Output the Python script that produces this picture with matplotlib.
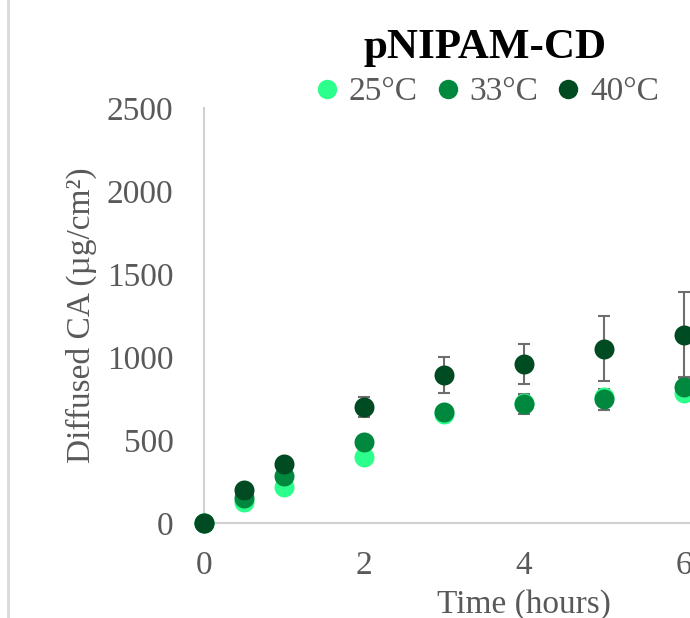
import matplotlib
matplotlib.use("Agg")
import matplotlib.pyplot as plt
from matplotlib.lines import Line2D

plt.rcParams['font.family'] = ['Liberation Serif', 'DejaVu Serif']

time_h = [0, 0.5, 1, 2, 3, 4, 5, 6]
series_labels = ["25°C", "33°C", "40°C"]
vals_25 = [0, 128, 215, 396, 657, 725, 757, 781]
vals_33 = [0, 149, 283, 488, 667, 717, 745, 821]
vals_40 = [0, 199, 353, 697, 891, 956, 1050, 1132]
err_25 = [0, 10, 15, 20, 20, 40, 40, 40]
err_33 = [0, 10, 15, 20, 20, 60, 65, 60]
err_40 = [0, 10, 15, 60, 110, 120, 197, 260]
x_ticks = [0, 2, 4, 6, 8]
y_ticks = [0, 500, 1000, 1500, 2000, 2500]

colors = ["#2dff8c", "#00893e", "#004b22"]
text_color = "#595959"
axis_color = "#d0d0d0"

fig = plt.figure(figsize=(6.9, 6.18), dpi=100)
ax = fig.add_axes([204/690, 1 - 523/618, 640/690, 415/618])

for vals, errs, c in zip([vals_25, vals_33, vals_40], [err_25, err_33, err_40], colors):
    ax.errorbar(time_h, vals, yerr=errs, fmt='none', ecolor="#6e6e6e",
                elinewidth=1.5, capsize=4.3, capthick=1.5, clip_on=False, zorder=2)
for vals, c, lab in zip([vals_25, vals_33, vals_40], colors, series_labels):
    ax.plot(time_h, vals, 'o', color=c, markersize=14.4, markeredgewidth=0,
            clip_on=False, zorder=3, label=lab)

ax.set_xlim(0, 8)
ax.set_ylim(0, 2500)
ax.set_xticks(x_ticks)
ax.set_yticks(y_ticks)
ax.tick_params(length=0, labelsize=24, labelcolor=text_color)
ax.tick_params(axis='x', pad=20)
ax.tick_params(axis='y', pad=22)
for s in ["top", "right"]:
    ax.spines[s].set_visible(False)
for s in ["left", "bottom"]:
    ax.spines[s].set_color(axis_color)
    ax.spines[s].set_linewidth(1.5)

ax.set_xlabel("Time (hours)", fontsize=24, color=text_color, labelpad=6)
ax.set_ylabel("Diffused CA (µg/cm²)", fontsize=24, color=text_color, labelpad=7)

fig.text(485/690, 1 - 48/618, "pNIPAM-CD", ha='center', va='center',
         fontsize=31, fontweight='bold', color='black')

handles = [Line2D([], [], marker='o', linestyle='none', color=c, markersize=14,
                  markeredgewidth=0) for c in colors]
leg = fig.legend(handles, series_labels, loc='center', bbox_to_anchor=(483/690, 1 - 92/618),
                 ncol=3, frameon=False, fontsize=24, handletextpad=0.05,
                 columnspacing=0.3, handlelength=1.2, borderpad=0)
for t in leg.get_texts():
    t.set_color(text_color)

fig.add_artist(Line2D([8/690, 8/690], [0, 1], transform=fig.transFigure,
                      color="#d9d9d9", linewidth=2))

fig.savefig("out.png", dpi=100)
